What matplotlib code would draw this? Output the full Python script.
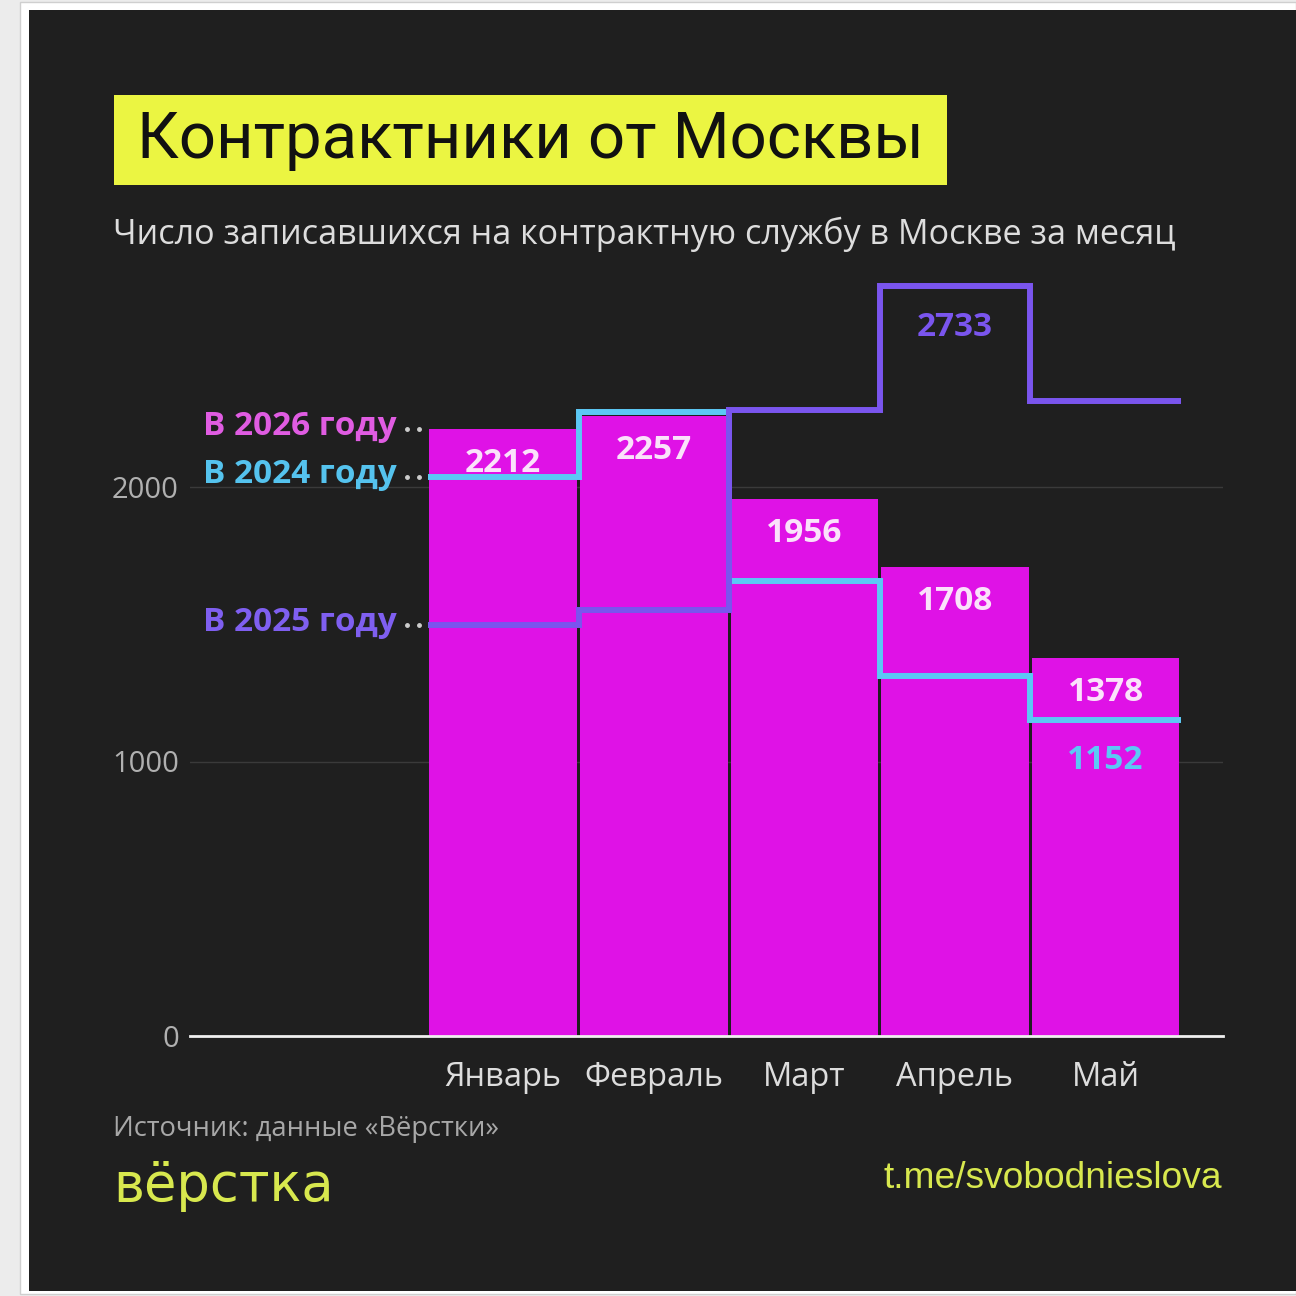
import numpy as np
import matplotlib
matplotlib.use("Agg")
import matplotlib.pyplot as plt
from matplotlib.patches import Rectangle

# -------------------------------
# Data: monthly sign-ups for contract service in Moscow
# -------------------------------
months = ["Январь", "Февраль", "Март", "Апрель", "Май"]
y2026 = [2212, 2257, 1956, 1708, 1378]
y2024 = [2036, 2273, 1658, 1311, 1152]
y2025 = [1497, 1552, 2280, 2733, 2313]
yticks = [0, 1000, 2000]

# colours
BG = "#1f1f1f"
MAGENTA = "#df12e6"
CYAN = "#5cc8f5"
PURPLE = "#7a55ee"
YELLOW = "#ebf542"
LOGO = "#d8e84e"

W = H = 1296
fig = plt.figure(figsize=(12.96, 12.96), dpi=100, facecolor="#ececec")
plt.rcParams["font.family"] = ["Open Sans", "DejaVu Sans"]


def px(x, y):
    # pixel position (from top-left) -> figure fraction
    return x / W, 1 - y / H


# card background (kept below the axes)
fig.patches.append(Rectangle(px(20, 1294), (W - 20) / W, 1292 / H, transform=fig.transFigure,
                             facecolor="white", edgecolor="#cfcfcf", lw=1, zorder=-3))
fig.patches.append(Rectangle(px(29, 1291), (W - 29) / W, 1281 / H, transform=fig.transFigure,
                             facecolor=BG, edgecolor="none", zorder=-2))

# title box
fig.patches.append(Rectangle(px(114, 185), (947 - 114) / W, 90 / H, transform=fig.transFigure,
                             facecolor=YELLOW, edgecolor="none", zorder=-1))
fig.text(*px(137, 140), "Контрактники от Москвы", fontsize=47, color="#111111",
         family=["Roboto", "DejaVu Sans"], va="center", ha="left")
fig.text(*px(113, 234), "Число записавшихся на контрактную службу в Москве за месяц",
         fontsize=24.55, color="#dddddd", va="center", ha="left")

# -------------------------------
# Main axes
# -------------------------------
ax = fig.add_axes([190 / W, (H - 1036) / H, (1223 - 190) / W, 2900 * 0.2745 / H])
ax.set_zorder(2)
ax.set_facecolor("none")
x = np.arange(len(months))
edges = np.arange(len(months) + 1) - 0.5

ax.bar(x, y2026, width=0.98, color=MAGENTA, zorder=2)
ax.stairs(y2024, edges, baseline=None, color=CYAN, lw=4.3, zorder=3)
ax.stairs(y2025, edges, baseline=None, color=PURPLE, lw=4.3, zorder=4)

ax.set_xlim(-2.08, 4.78)
ax.set_ylim(0, 2900)
ax.set_yticks(yticks)
ax.set_yticklabels([str(t) for t in yticks], fontsize=21, color="#b0b0b0")
ax.set_xticks(x)
ax.set_xticklabels(months, fontsize=23.5, color="#dddddd")
ax.tick_params(axis="y", length=0, pad=8)
ax.tick_params(axis="x", length=0, pad=18)
ax.grid(axis="y", color="#3a3a3a", lw=1, zorder=0)
ax.set_axisbelow(True)
for s in ["top", "right", "left"]:
    ax.spines[s].set_visible(False)
ax.spines["bottom"].set_color("#f0f0f0")
ax.spines["bottom"].set_linewidth(2)
ax.spines["bottom"].set_zorder(5)

# value labels
for xi, v in zip(x, y2026):
    ax.text(xi, v - 125, str(v), ha="center", va="center", fontsize=24,
            fontweight="bold", color="#fbe2fb", zorder=6)
ax.text(4, y2024[4] - 148, str(y2024[4]), ha="center", va="center", fontsize=24,
        fontweight="bold", color=CYAN, zorder=6)
ax.text(3, y2025[3] - 152, str(y2025[3]), ha="center", va="center", fontsize=24,
        fontweight="bold", color=PURPLE, zorder=6)

# series labels with dotted leaders
series_labels = ["В 2026 году", "В 2024 году", "В 2025 году"]
series_first = [y2026[0], y2024[0], y2025[0]]
series_colors = ["#e05ce2", "#55c3ee", "#7f5ff0"]
for lab, v, c in zip(series_labels, series_first, series_colors):
    ax.text(-0.705, v - 22, lab, ha="right", va="baseline", fontsize=24,
            fontweight="bold", color=c, zorder=6)
    ax.plot([-0.64, -0.56], [v, v], ls="none", marker="o", ms=2.5,
            color="#cccccc", zorder=6, clip_on=False)

# footer
fig.text(*px(113, 1129), "Источник: данные «Вёрстки»", fontsize=19.7, color="#a8a8a8",
         va="center", ha="left")
fig.text(*px(113, 1186), "вёрстка", fontsize=38, color=LOGO, va="center", ha="left",
         family=["DejaVu Sans"])
fig.text(*px(1222, 1178), "t.me/svobodnieslova", fontsize=26.7, color=LOGO,
         va="center", ha="right", family=["Liberation Sans", "DejaVu Sans"])

fig.savefig("out.png", dpi=100, facecolor=fig.get_facecolor())
